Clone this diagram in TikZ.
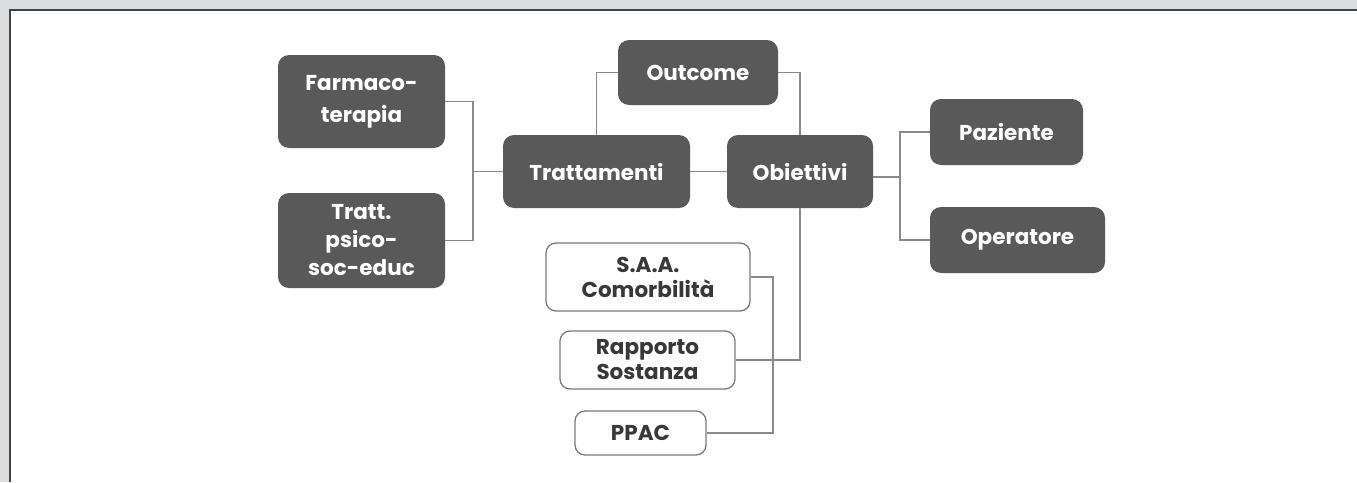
\documentclass[tikz,border=0pt]{standalone}
\usepackage{fontspec}
\setmainfont{Poppins}
\definecolor{bggray}{HTML}{DCDDDF}
\definecolor{framec}{HTML}{454545}
\definecolor{boxdark}{HTML}{595959}
\definecolor{linec}{HTML}{8A8A8A}
\definecolor{txtdark}{HTML}{383838}
\definecolor{lightborder}{HTML}{7A7A7A}
\begin{document}
\begin{tikzpicture}[x=1pt,y=-1pt,
  darkbox/.style={fill=boxdark, draw=none, rounded corners=11pt, text=white,
    font=\fontsize{21.5}{30}\selectfont\bfseries, align=center, inner sep=0pt},
  lightbox/.style={fill=white, draw=lightborder, line width=1.3pt, rounded corners=10pt,
    text=txtdark, font=\fontsize{21.5}{25}\selectfont\bfseries, align=center, inner sep=0pt},
  conn/.style={draw=linec, line width=1.4pt}]
\useasboundingbox (0,0) rectangle (1357,482);
\fill[bggray] (0,0) rectangle (1357,482);
\fill[white] (9,9) rectangle (1357,482);
\draw[framec, line width=2pt] (9.5,482) -- (9.5,9.5) -- (1357,9.5);

% dark nodes
\node[darkbox, minimum width=167pt, minimum height=93pt] (farm) at (361.5,101.5) {Farmaco-\\[2pt]terapia};
\node[darkbox, minimum width=167pt, minimum height=95pt] (psico) at (361.5,240.5) {Tratt.\\[-2pt]psico-\\[-2pt]soc-educ};
\node[darkbox, minimum width=187pt, minimum height=73pt] (tratt) at (596.5,171.5) {Trattamenti};
\node[darkbox, minimum width=160pt, minimum height=65pt] (out) at (698,72.5) {Outcome};
\node[darkbox, minimum width=146pt, minimum height=73pt] (obi) at (800,171.5) {Obiettivi};
\node[darkbox, minimum width=153pt, minimum height=66pt] (paz) at (1006.5,132) {Paziente};
\node[darkbox, minimum width=175pt, minimum height=66pt] (ope) at (1017.5,240) {Operatore};

% light nodes
\node[lightbox, minimum width=204pt, minimum height=68pt] (saa) at (648,277) {S.A.A.\\Comorbilità};
\node[lightbox, minimum width=175pt, minimum height=58pt] (rap) at (647.5,360) {Rapporto\\Sostanza};
\node[lightbox, minimum width=131pt, minimum height=44pt] (ppac) at (640.5,433) {PPAC};

% junctions
\coordinate (jL) at (473,171.5);
\coordinate (jR) at (900,177);
\coordinate (jB) at (773,277);

% connectors
\draw[conn] (farm.east) -| (jL) |- (psico.east);
\draw[conn] (jL) -- (tratt.west);
\draw[conn] (tratt.north) |- (out.west);
\draw[conn] (out.east) -| (obi.north);
\draw[conn] (tratt.east) -- (obi.west);
\draw[conn] (obi.east |- jR) -- (jR);
\draw[conn] (paz.west) -| (jR) |- (ope.west);
\draw[conn] (rap.east) -| (obi.south);
\draw[conn] (saa.east) -- (jB) |- (ppac.east);
\end{tikzpicture}
\end{document}
